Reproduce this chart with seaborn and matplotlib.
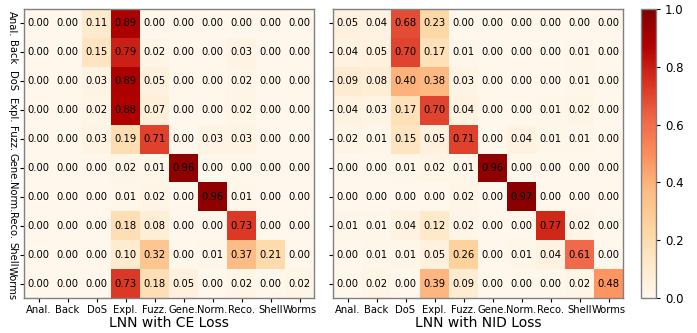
import numpy as np
import matplotlib
matplotlib.use("Agg")
import matplotlib.pyplot as plt
import seaborn as sns

labels = ["Anal.", "Back", "DoS", "Expl.", "Fuzz.", "Gene.", "Norm.", "Reco.", "Shell", "Worms"]

ce_loss = [
    [0.00, 0.00, 0.11, 0.89, 0.00, 0.00, 0.00, 0.00, 0.00, 0.00],
    [0.00, 0.00, 0.15, 0.79, 0.02, 0.00, 0.00, 0.03, 0.00, 0.00],
    [0.00, 0.00, 0.03, 0.89, 0.05, 0.00, 0.00, 0.02, 0.00, 0.00],
    [0.00, 0.00, 0.02, 0.88, 0.07, 0.00, 0.00, 0.02, 0.00, 0.00],
    [0.00, 0.00, 0.03, 0.19, 0.71, 0.00, 0.03, 0.03, 0.00, 0.00],
    [0.00, 0.00, 0.00, 0.02, 0.01, 0.96, 0.00, 0.00, 0.00, 0.00],
    [0.00, 0.00, 0.00, 0.01, 0.02, 0.00, 0.96, 0.01, 0.00, 0.00],
    [0.00, 0.00, 0.00, 0.18, 0.08, 0.00, 0.00, 0.73, 0.00, 0.00],
    [0.00, 0.00, 0.00, 0.10, 0.32, 0.00, 0.01, 0.37, 0.21, 0.00],
    [0.00, 0.00, 0.00, 0.73, 0.18, 0.05, 0.00, 0.02, 0.00, 0.02],
]

nid_loss = [
    [0.05, 0.04, 0.68, 0.23, 0.00, 0.00, 0.00, 0.00, 0.00, 0.00],
    [0.04, 0.05, 0.70, 0.17, 0.01, 0.00, 0.00, 0.00, 0.01, 0.00],
    [0.09, 0.08, 0.40, 0.38, 0.03, 0.00, 0.00, 0.00, 0.01, 0.00],
    [0.04, 0.03, 0.17, 0.70, 0.04, 0.00, 0.00, 0.01, 0.02, 0.00],
    [0.02, 0.01, 0.15, 0.05, 0.71, 0.00, 0.04, 0.01, 0.01, 0.00],
    [0.00, 0.00, 0.01, 0.02, 0.01, 0.96, 0.00, 0.00, 0.00, 0.00],
    [0.00, 0.00, 0.00, 0.00, 0.02, 0.00, 0.97, 0.00, 0.00, 0.00],
    [0.01, 0.01, 0.04, 0.12, 0.02, 0.00, 0.00, 0.77, 0.02, 0.00],
    [0.00, 0.01, 0.01, 0.05, 0.26, 0.00, 0.01, 0.04, 0.61, 0.00],
    [0.00, 0.02, 0.00, 0.39, 0.09, 0.00, 0.00, 0.00, 0.02, 0.48],
]

titles = ["LNN with CE Loss", "LNN with NID Loss"]

fig = plt.figure(figsize=(6.97, 3.33), dpi=100)
ax1 = fig.add_axes([24/697, 1-298/333, 290/697, 289/333])
ax2 = fig.add_axes([333/697, 1-298/333, 290/697, 289/333])
cax = fig.add_axes([641/697, 1-298/333, 15/697, 289/333])

for i, (ax, data, title) in enumerate(zip([ax1, ax2], [ce_loss, nid_loss], titles)):
    sns.heatmap(np.array(data), ax=ax, cmap="OrRd", vmin=0, vmax=1,
                annot=True, fmt=".2f", annot_kws={"fontsize": 7.2, "color": "black"},
                cbar=(i == 1), cbar_ax=cax if i == 1 else None,
                xticklabels=labels, yticklabels=labels if i == 0 else False)
    ax.set_xlabel(title, fontsize=10, labelpad=1)
    ax.tick_params(axis="x", labelsize=7.2, rotation=0, length=3, pad=2)
    ax.tick_params(axis="y", labelsize=7.2, length=3, pad=2)
    if i == 0:
        for t in ax.get_yticklabels():
            t.set_rotation(-90)
            t.set_va("center")
    else:
        ax.set_yticks(np.arange(10) + 0.5)
        ax.set_yticklabels([])
    for s in ax.spines.values():
        s.set_visible(True)
        s.set_color("#808080")
        s.set_linewidth(1.0)

cax.tick_params(labelsize=8.5, length=3)
cax.set_yticks([0, 0.2, 0.4, 0.6, 0.8, 1.0])
cax.set_yticklabels(["0.0", "0.2", "0.4", "0.6", "0.8", "1.0"])
cb = ax2.collections[0].colorbar
cb.outline.set_visible(True)
cb.outline.set_edgecolor("#808080")
cb.outline.set_linewidth(1.0)

fig.savefig("out.png", dpi=100)
